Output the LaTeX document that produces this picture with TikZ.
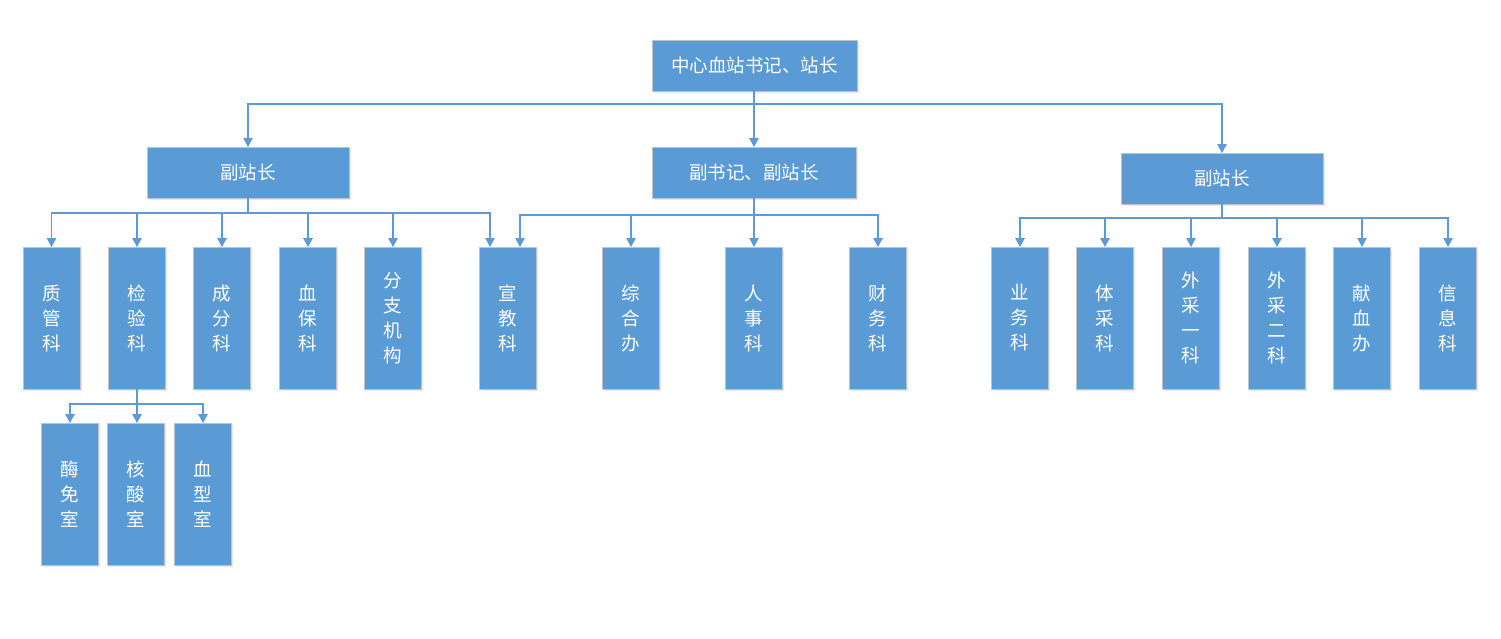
\documentclass[tikz,border=0pt]{standalone}
\usepackage{fontspec}
\newfontfamily\cjk{Noto Sans CJK SC}
\usetikzlibrary{arrows.meta,shadows}
\definecolor{boxblue}{HTML}{5B9BD5}
\definecolor{boxedge}{HTML}{BFC4CC}
\begin{document}
\begin{tikzpicture}[x=1pt,y=-1pt,
  box/.style={draw=boxedge,line width=0.9pt,fill=boxblue,text=white,
    inner sep=0pt,outer sep=0pt,anchor=north west,align=center,
    font={\cjk\fontsize{18.5}{25}\selectfont},
    drop shadow={opacity=0.18,shadow xshift=1.5pt,shadow yshift=-2pt}},
  hbox/.style={box,minimum width=204pt,minimum height=51pt},
  vbox/.style={box,minimum width=57pt,minimum height=142pt},
  arr/.style={draw=boxblue,line width=1.2pt,-{Triangle[width=9.5pt,length=9pt]}},
  ln/.style={draw=boxblue,line width=1.2pt}]
\useasboundingbox (0,0) rectangle (1501,638);
% top
\node[hbox,minimum width=205pt] (top) at (652,40) {中心血站书记、站长};
% second level
\node[hbox,minimum width=202pt] (l) at (147,147) {副站长};
\node[hbox] (m) at (652,147) {副书记、副站长};
\node[hbox,minimum width=202pt] (r) at (1121,153) {副站长};
% third level
\node[vbox] (c1) at (23,247) {质\\管\\科};
\node[vbox] (c2) at (108.5,247) {检\\验\\科};
\node[vbox] (c3) at (193.5,247) {成\\分\\科};
\node[vbox] (c4) at (279.5,247) {血\\保\\科};
\node[vbox] (c5) at (364.5,247) {分\\支\\机\\构};
\node[vbox] (c6) at (479.5,247) {宣\\教\\科};
\node[vbox] (c7) at (602.5,247) {综\\合\\办};
\node[vbox] (c8) at (725.5,247) {人\\事\\科};
\node[vbox] (c9) at (849.5,247) {财\\务\\科};
\node[vbox] (c10) at (991.5,247) {业\\务\\科};
\node[vbox] (c11) at (1076.5,247) {体\\采\\科};
\node[vbox] (c12) at (1162.5,247) {外\\采\\一\\科};
\node[vbox] (c13) at (1248.5,247) {外\\采\\二\\科};
\node[vbox] (c14) at (1333.5,247) {献\\血\\办};
\node[vbox] (c15) at (1419.5,247) {信\\息\\科};
% fourth level
\node[vbox] (s1) at (41.5,423) {酶\\免\\室};
\node[vbox] (s2) at (107.5,423) {核\\酸\\室};
\node[vbox] (s3) at (174.5,423) {血\\型\\室};
% junctions
\coordinate (j0) at (754,104);
\coordinate (jl) at (248,213);
\coordinate (jm) at (754,215);
\coordinate (jr) at (1222,218);
\coordinate (js) at (137,404);
% top connectors
\draw[ln] (top.south -| j0) -- (j0);
\draw[arr] (j0) -| (l.north);
\draw[arr] (j0) -- (j0 |- m.north);
\draw[arr] (j0) -| (r.north);
% left branch
\draw[ln] (l.south) -- (jl);
\foreach \c in {c1,c2,c3,c4,c5} \draw[arr] (jl) -| (\c.north);
\draw[arr] (jl) -| ([xshift=-18pt]c6.north);
% middle branch
\draw[ln] (m.south -| jm) -- (jm);
\draw[arr] (jm) -| ([xshift=12pt]c6.north);
\foreach \c in {c7,c8,c9} \draw[arr] (jm) -| (\c.north);
% right branch
\draw[ln] (r.south) -- (jr);
\foreach \c in {c10,c11,c12,c13,c14,c15} \draw[arr] (jr) -| (\c.north);
% sub branch
\draw[ln] (c2.south) -- (js);
\draw[arr] (js) -| (s1.north);
\draw[arr] (js) -- (js |- s2.north);
\draw[arr] (js) -| (s3.north);
\end{tikzpicture}
\end{document}
